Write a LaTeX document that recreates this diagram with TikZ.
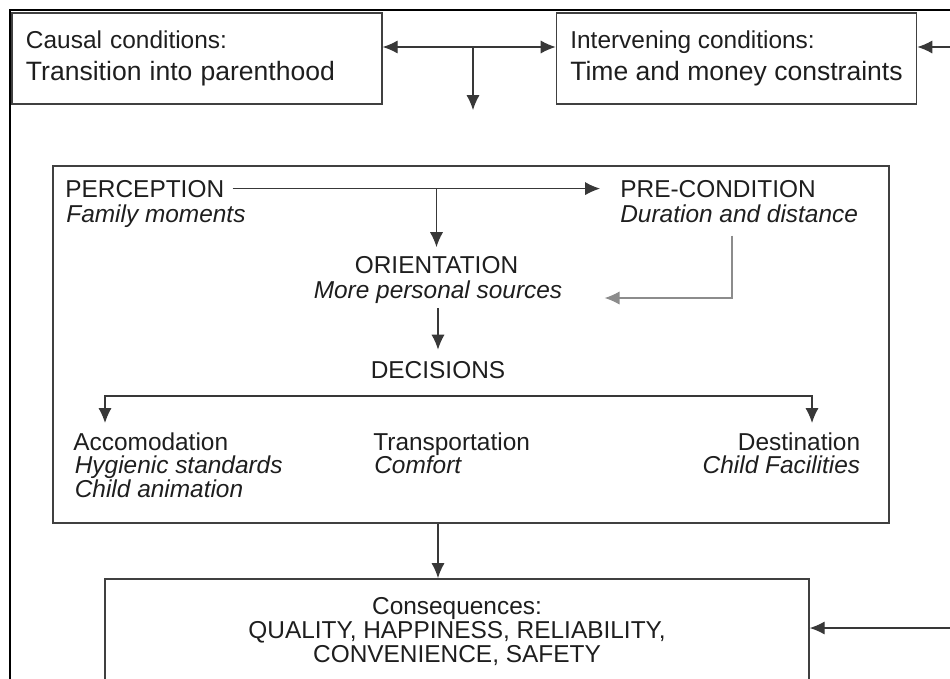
\documentclass[tikz,border=0pt]{standalone}
\usepackage{fontspec}
\setmainfont{Liberation Sans}
\usetikzlibrary{arrows.meta}

\definecolor{boxgray}{HTML}{404040}
\definecolor{linegray}{HTML}{383838}
\definecolor{palegray}{HTML}{8C8C8C}
\definecolor{textgray}{HTML}{1E1E1E}

\newcommand{\bodyfont}{\fontsize{13.9}{14.2}\selectfont}
\newcommand{\bigfont}{\fontsize{15.1}{18.2}\selectfont}

\begin{document}
\begin{tikzpicture}

\tikzset{box/.style = {draw=boxgray, line width=0.85pt, text=textgray}}
\tikzset{cond/.style = {box, minimum height=1.82cm, inner xsep=0.28cm, align=left, font=\fontsize{13.9}{18.2}\selectfont}}
\tikzset{head/.style = {inner sep=0, text=textgray, font=\bodyfont}}
\tikzset{sub/.style = {head, font=\bodyfont\itshape}}
\tikzset{arc/.style = {->, >={Latex[length=8.5pt,width=7.5pt]}, draw=linegray, line width=0.65pt}}
\tikzset{pale/.style = {draw=palegray}}

\useasboundingbox (0,0) rectangle (19,-13.56);
\clip (0,0) rectangle (19,-13.56);

% outer frame
\draw[line width=1.15pt] (0.2,-14) -- (0.2,-0.2) -- (20,-0.2);

% boxes
\node[cond, text width=6.84cm] (causal) at (3.94,-1.17) {Causal conditions:\\{\bigfont Transition into parenthood}};
\node[cond, minimum width=7.18cm] (interv) at (14.73,-1.17) {Intervening conditions:\\{\bigfont Time and money constraints}};
\node[box, minimum width=16.72cm, minimum height=7.14cm] (frame) at (9.42,-6.89) {};
\node[box, minimum width=14.08cm, inner ysep=0.38cm, text depth=2cm, anchor=north, align=center,
      font=\fontsize{13.9}{13.7}\selectfont] (cons) at (9.14,-11.56)
      {Consequences:\\QUALITY, HAPPINESS, RELIABILITY,\\CONVENIENCE, SAFETY};

% labels
\node[head, anchor=base west] (perc) at (1.3,-3.94) {PERCEPTION};
\node[sub, anchor=base west] (fam) at (1.32,-4.44) {Family moments};
\node[head, anchor=base west] (precond) at (12.4,-3.94) {PRE-CONDITION};
\node[sub, anchor=base west] (dur) at (12.4,-4.44) {Duration and distance};
\node[head, anchor=base] (orient) at (8.73,-5.47) {ORIENTATION};
\node[sub, anchor=base] (more) at (8.76,-5.96) {More personal sources};
\node[head, anchor=base] (decis) at (8.76,-7.56) {DECISIONS};
\node[head, anchor=base west] (accom) at (1.46,-9.0) {Accomodation};
\node[sub, anchor=base west] (hyg) at (1.49,-9.46) {Hygienic standards};
\node[sub, anchor=base west] (child) at (1.49,-9.94) {Child animation};
\node[head, anchor=base west] (transp) at (7.46,-9.0) {Transportation};
\node[sub, anchor=base west] (comf) at (7.48,-9.46) {Comfort};
\node[head, anchor=base east] (dest) at (17.21,-9.0) {Destination};
\node[sub, anchor=base east] (fac) at (17.21,-9.46) {Child Facilities};

% free ends
\coordinate (hub) at (9.46,-0.94);
\coordinate (hubend) at (9.46,-2.2);
\coordinate (eastA) at (19.2,-0.94);
\coordinate (eastB) at (19.2,-12.56);
\coordinate (bend) at (14.64,-5.96);
\coordinate (forkl) at (2.1,-7.92);
\coordinate (forkr) at (16.24,-7.92);

% arcs
\draw[arc, <->] (causal.east |- hub) -- (interv.west |- hub);
\draw[arc] (hub) -- (hubend);
\draw[arc] (eastA) -- (interv.east |- eastA);
\draw[arc, shorten <=0.16cm, shorten >=0.4cm] (perc.east) -- (precond.west);
\draw[arc, shorten >=0.18cm] (perc.east -| orient) -- (orient.north);
\draw[arc, pale, shorten <=0.26cm, shorten >=0.84cm] (bend |- dur.south) |- (more.east |- bend);
\draw[arc, shorten <=0.1cm, shorten >=0.22cm] (more.south) -- (decis.north);
\draw[arc, <->, shorten <=0.18cm, shorten >=0.18cm] (forkl |- accom.north) |- (forkr) -- (forkr |- dest.north);
\draw[arc] (frame.south -| decis) -- (cons.north -| decis);
\draw[arc] (eastB) -- (cons.east |- eastB);

\end{tikzpicture}
\end{document}
